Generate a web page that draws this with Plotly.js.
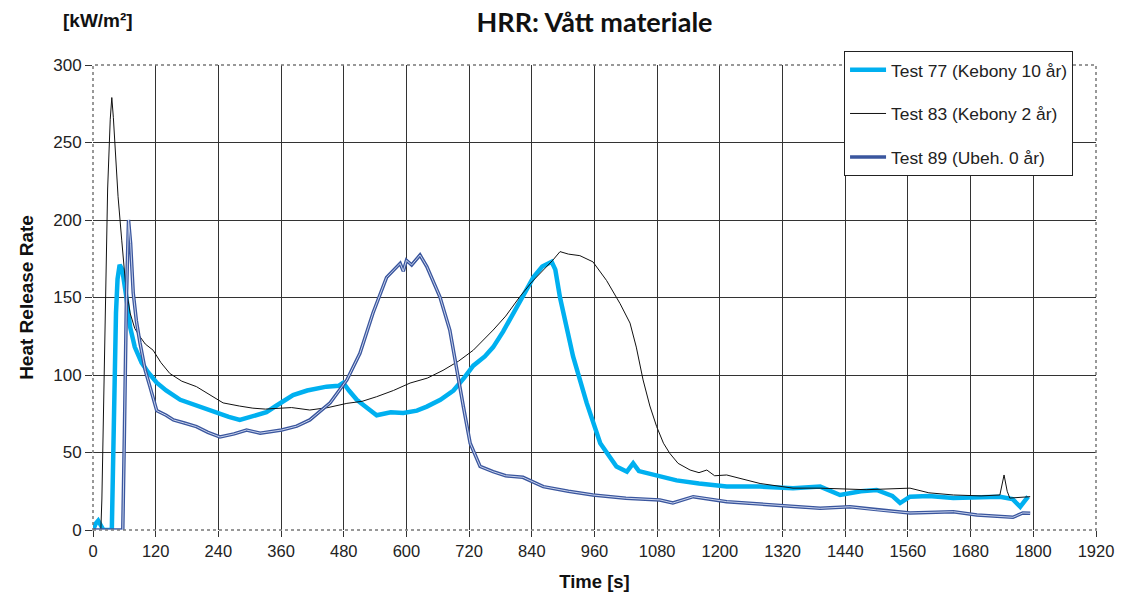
<!DOCTYPE html>
<html>
<head>
<meta charset="utf-8">
<script src="https://cdn.plot.ly/plotly-3.0.1.min.js"></script>
<style>
html,body{margin:0;padding:0;background:#fff;}
#chart{width:1128px;height:599px;}
</style>
</head>
<body>
<div id="chart"></div>
<script>
// Test 77 (Kebony 10 år)
var t77 = [0,5,10,15,20,36,38,41,44,47,51,56,60,64,71,80,93,105,122,140,167,200,230,260,281,300,320,332,350,383,410,447,470,479,490,505,520,543,570,594,620,639,665,690,710,728,750,766,785,805,825,843,860,878,885,894,919,945,971,1002,1022,1034,1045,1060,1090,1117,1160,1213,1277,1340,1392,1430,1470,1500,1530,1545,1564,1600,1647,1690,1736,1760,1775,1790];
var y77 = [0,4,6,3,0,0,40,100,140,162,171,168,160,150,131,118,108,102,95,90,84,80,77,73,71,73,75,76,80,87,90,92.5,93,95,90,84,80,74,76,75.5,77,79.6,84,90,98,106,112,118,128,140,152,163,170,173,168,150,112,82,56,41,37.6,43,38,36.7,34,32,30,28,28,27,28,22.6,25,25.8,22,17.4,21.5,22,20.6,21,21.5,20,15,21.5];

// Test 83 (Kebony 2 år)
var t83 = [0,15,17,22,28,33,36,39,42,48,55,62,71,80,90,100,115,130,147,170,198,225,249,280,306,330,352,380,415,450,486,515,543,575,607,640,670,700,728,766,790,817,840,862,880,894,910,932,957,983,1009,1028,1040,1053,1066,1079,1092,1104,1120,1143,1160,1175,1190,1213,1277,1340,1392,1480,1564,1600,1647,1700,1736,1744,1750,1755,1775,1794];
var y83 = [0,0,20,120,220,265,279,266,250,215,187,160,140,130,124.7,120,116,108,101,96,92.5,87,82,80,78.6,78,78.6,79,77.4,79,81.7,83,86,90,94.8,98,103,109,116,129,138,150.5,160,167.7,174,179.6,178,177,173,161,146,133.5,118,96.8,80,66.7,56,49.5,43,38.7,37,38.7,35,35.5,30,27,27,26,27,24,22.6,22,22.6,35.5,25,20.6,21,21.5];

// Test 89 (Ubeh. 0 år)
var t89 = [0,57,60,64,68,72,77,83,90,100,109,122,140,154,175,198,220,243,270,294,320,361,390,415,454,486,511,536,562,588,594,600,610,626,639,664,683,696,709,722,741,766,790,823,862,910,957,1020,1085,1110,1149,1213,1309,1392,1449,1500,1564,1647,1692,1761,1780,1794];
var y89 = [0,0,60,150,200,185,153,135,120.6,103,92.5,77,74,71,69,66.7,63,60,62,64.5,62.5,64.5,67,71,82,96.8,114,140,163,172,167,174,171,177.4,170,150.5,129,103,79.6,56,41,37.6,35,34,28,25,22.6,20.5,19.4,17.4,21.5,18.3,16,14,15,13,11,11.8,9.7,8.2,11,10.8];

var xTicks = [0,120,240,360,480,600,720,840,960,1080,1200,1320,1440,1560,1680,1800,1920];
var yTicks = [0,50,100,150,200,250,300];

var traces = [
  {x:t77, y:y77, type:'scatter', mode:'lines', name:'Test 77 (Kebony 10 år)',
   legendgroup:'a', line:{color:'#00B0F0', width:4.5}},
  {x:t83, y:y83, type:'scatter', mode:'lines', name:'Test 83 (Kebony 2 år)',
   legendgroup:'b', line:{color:'#111111', width:1}},
  {x:t89, y:y89, type:'scatter', mode:'lines', name:'Test 89 (Ubeh. 0 år)',
   legendgroup:'c', line:{color:'#3A569E', width:3.5}},
  {x:t89, y:y89, type:'scatter', mode:'lines', name:'Test 89 (Ubeh. 0 år)',
   legendgroup:'c', showlegend:false, line:{color:'#C9D3EC', width:1}}
];

var font = "Liberation Sans, Arial, sans-serif";
var layout = {
  width:1128, height:599,
  margin:{l:93, r:32, t:65, b:69},
  paper_bgcolor:'#fff', plot_bgcolor:'#fff',
  font:{family:font, size:17, color:'#222'},
  showlegend:true,
  title:{text:'<b>HRR: Vått materiale</b>', font:{family:'Lato, Liberation Sans, sans-serif', size:27, color:'#111'},
         xref:'paper', x:0.5, xanchor:'center', yref:'container', y:0.962, yanchor:'middle'},
  xaxis:{range:[0,1920], tickvals:xTicks, ticktext:xTicks.map(String),
         showgrid:true, gridcolor:'#333', gridwidth:1, zeroline:false,
         ticks:'outside', ticklen:6, tickcolor:'#333', showline:false,
         tickfont:{family:font, size:16.5, color:'#222'},
         title:{text:'<b>Time [s]</b>', font:{family:font, size:18.5, color:'#111'}, standoff:16}},
  yaxis:{range:[0,300], tickvals:yTicks, ticktext:yTicks.map(String),
         showgrid:true, gridcolor:'#333', gridwidth:1, zeroline:false,
         ticks:'outside', ticklen:7, tickcolor:'#333', showline:false,
         tickfont:{family:font, size:17, color:'#222'},
         title:{text:'<b>Heat Release Rate</b>', font:{family:font, size:19, color:'#111'}, standoff:14}},
  legend:{x:0.7488, y:1.03, xanchor:'left', yanchor:'top', bgcolor:'#fff',
          bordercolor:'#222', borderwidth:1, traceorder:'grouped', tracegroupgap:18,
          itemwidth:36,
          font:{family:font, size:17.4, color:'#222'}},
  shapes:[{type:'rect', xref:'paper', yref:'paper', x0:0, x1:1, y0:0, y1:1,
           line:{color:'#777', width:1.5, dash:'dot'}}],
  annotations:[{text:'<b>[kW/m²]</b>', xref:'paper', yref:'paper', x:0.005, y:1.095,
                xanchor:'center', yanchor:'middle', showarrow:false,
                font:{family:font, size:19, color:'#111'}}]
};

Plotly.newPlot('chart', traces, layout, {displayModeBar:false, staticPlot:true});
</script>
</body>
</html>
